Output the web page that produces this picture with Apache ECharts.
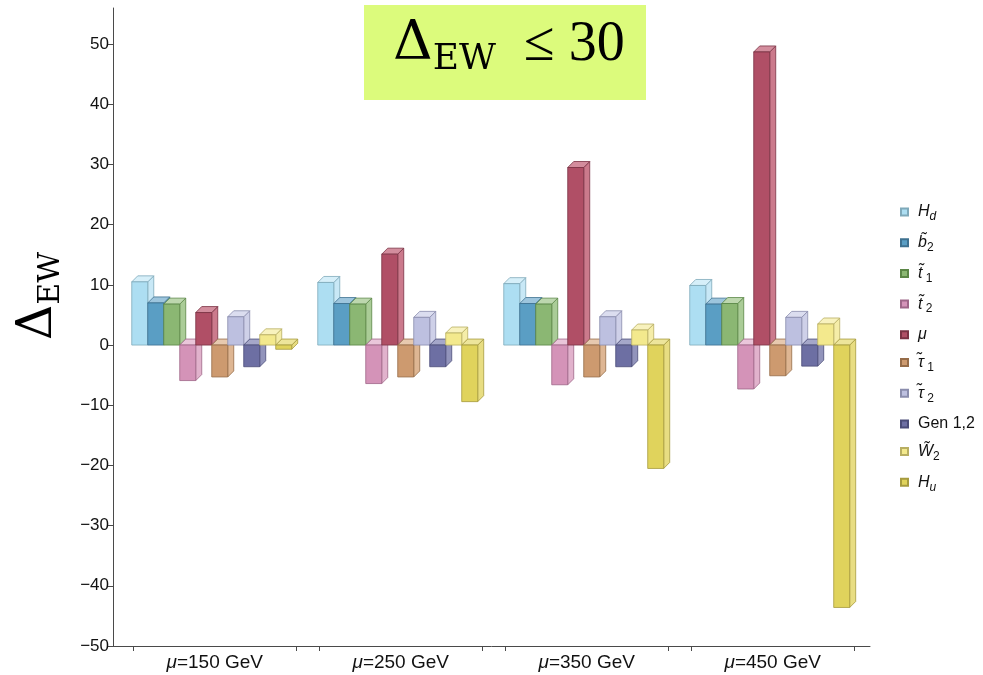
<!DOCTYPE html>
<html>
<head>
<meta charset="utf-8">
<script src="https://cdn.jsdelivr.net/npm/echarts@6/dist/echarts.min.js"></script>
<style>html,body{margin:0;padding:0;background:#fff}#c{width:983px;height:675px}</style>
</head>
<body>
<div id="c"></div>
<script>
// ---- data ----
const categories = ['μ=150 GeV', 'μ=250 GeV', 'μ=350 GeV', 'μ=450 GeV'];
const seriesNames = ['Hd', 'b2', 't1', 't2', 'mu', 'tau1', 'tau2', 'Gen12', 'W2', 'Hu'];
const Hd    = [10.5, 10.4, 10.2, 9.9];
const b2    = [7.0, 6.9, 6.9, 6.8];
const t1    = [6.8, 6.8, 6.8, 6.9];
const t2    = [-5.9, -6.4, -6.6, -7.3];
const mu    = [5.4, 15.1, 29.5, 48.7];
const tau1  = [-5.3, -5.3, -5.3, -5.1];
const tau2  = [4.7, 4.6, 4.7, 4.6];
const Gen12 = [-3.6, -3.6, -3.6, -3.5];
const W2    = [1.7, 2.0, 2.5, 3.5];
const Hu    = [-0.7, -9.4, -20.5, -43.6];
const yTickValues = [-50, -40, -30, -20, -10, 0, 10, 20, 30, 40, 50];

const values = [Hd, b2, t1, t2, mu, tau1, tau2, Gen12, W2, Hu];

// ---- styles ----
const STY = [
  {front:'#ADDEF2', top:'#D6EFF9', side:'#C8E8F6', stroke:'#7FA9BA'},
  {front:'#5A9EC4', top:'#9DC5DD', side:'#87B7D3', stroke:'#3E7190'},
  {front:'#8BB773', top:'#BDD7AE', side:'#AACC97', stroke:'#5B8646'},
  {front:'#D493B8', top:'#EAC6DA', side:'#E1B2CC', stroke:'#9E6688'},
  {front:'#B04F66', top:'#D38D9D', side:'#CB7A8C', stroke:'#7A3244'},
  {front:'#CD9A6F', top:'#E7C9AF', side:'#DEB693', stroke:'#966C48'},
  {front:'#BDC0E0', top:'#DBDDEF', side:'#CED0E8', stroke:'#8A8DAD'},
  {front:'#6D6FA3', top:'#A5A7C9', side:'#9294BB', stroke:'#4A4C78'},
  {front:'#F3E98D', top:'#F8F2BE', side:'#F5EDA8', stroke:'#B8AE62'},
  {front:'#E0D35C', top:'#EDE59B', side:'#E8DD82', stroke:'#A69B3E'}
];
const LEGEND_LABELS = {
  Hd: '{i|H}{si|d}',
  b2: '{i|b\u0303}{s|2}',
  t1: '{i|t\u0303}{s| 1}',
  t2: '{i|t\u0303}{s| 2}',
  mu: '{i|μ}',
  tau1: '{i|τ\u0303}{s| 1}',
  tau2: '{i|τ\u0303}{s| 2}',
  Gen12: '{n|Gen 1,2}',
  W2: '{i|W\u0303}{s|2}',
  Hu: '{i|H}{si|u}'
};

const BAR_FRAC = 0.086;
const DEPTH = 6;
const NS = seriesNames.length;

function renderBar(params, api) {
  const si = params.seriesIndex;
  const cat = api.value(0);
  const val = api.value(1);
  const base = api.coord([cat + 0.5, 0]);
  const tip = api.coord([cat + 0.5, val]);
  const pitch = api.size([1, 0])[0];
  const bw = pitch * BAR_FRAC;
  const d = DEPTH;
  const x0 = base[0] - (NS * bw + d) / 2 + si * bw;
  const x1 = x0 + bw;
  const yTop = Math.min(base[1], tip[1]);
  const yBot = Math.max(base[1], tip[1]);
  const s = STY[si];
  const lw = 0.8;
  return {
    type: 'group',
    children: [
      {type: 'polygon', shape: {points: [[x1, yTop], [x1 + d, yTop - d], [x1 + d, yBot - d], [x1, yBot]]},
        style: {fill: s.side, stroke: s.stroke, lineWidth: lw}},
      {type: 'polygon', shape: {points: [[x0, yTop], [x0 + d, yTop - d], [x1 + d, yTop - d], [x1, yTop]]},
        style: {fill: s.top, stroke: s.stroke, lineWidth: lw}},
      {type: 'rect', shape: {x: x0, y: yTop, width: bw, height: yBot - yTop},
        style: {fill: s.front, stroke: s.stroke, lineWidth: lw}}
    ]
  };
}

const xTicks = [];
categories.forEach((c, i) => { xTicks.push(i + 0.06, i + 0.94); });

const axisColor = '#4a4a4a';
const sansFont = 'Liberation Sans';

const chart = echarts.init(document.getElementById('c'), null, {renderer: 'canvas'});
chart.setOption({
  animation: false,
  backgroundColor: '#fff',
  grid: {left: 113, top: 8, width: 757, height: 638},
  xAxis: {
    type: 'value', min: -0.047, max: 4.023,
    axisLine: {show: true, onZero: false, lineStyle: {color: axisColor, width: 1}},
    splitLine: {show: false},
    axisTick: {show: true, customValues: xTicks, length: 5, lineStyle: {color: axisColor}},
    axisLabel: {
      customValues: categories.map((c, i) => i + 0.5),
      formatter: function (v) {
        const c = categories[Math.round(v - 0.5)] || '';
        return '{i|' + c.slice(0, 1) + '}{n|' + c.slice(1) + '}';
      },
      margin: 7,
      rich: {
        i: {fontFamily: sansFont, fontSize: 19, fontStyle: 'italic', color: '#111'},
        n: {fontFamily: sansFont, fontSize: 19, color: '#111'}
      }
    }
  },
  yAxis: {
    type: 'value', min: -50, max: 56, position: 'left',
    axisLine: {show: true, onZero: false, lineStyle: {color: axisColor, width: 1}},
    splitLine: {show: false},
    axisTick: {show: true, customValues: yTickValues, length: 5, lineStyle: {color: axisColor}},
    axisLabel: {
      customValues: yTickValues, margin: 4,
      fontFamily: sansFont, fontSize: 17, color: '#111',
      formatter: v => String(v).replace('-', '\u2212')
    }
  },
  legend: {
    orient: 'vertical', left: 900, top: 204, padding: 0,
    itemWidth: 7, itemHeight: 7, itemGap: 11.7, icon: 'rect',
    data: seriesNames,
    formatter: name => LEGEND_LABELS[name],
    textStyle: {
      padding: [0, 0, 0, 5],
      rich: {
        i: {fontFamily: sansFont, fontSize: 16, fontStyle: 'italic', color: '#111', lineHeight: 22},
        n: {fontFamily: sansFont, fontSize: 16, color: '#111', lineHeight: 22},
        s: {fontFamily: sansFont, fontSize: 12, color: '#111', lineHeight: 14, verticalAlign: 'bottom'},
        si: {fontFamily: sansFont, fontSize: 12, fontStyle: 'italic', color: '#111', lineHeight: 14, verticalAlign: 'bottom'}
      }
    }
  },
  graphic: [
    {type: 'rect', left: 364, top: 5, shape: {width: 282, height: 95}, style: {fill: '#DCFB7C'}, z: 10},
    {type: 'text', left: 393, top: 17, z: 11,
      style: {
        text: '{d|Δ}{s|EW}{t|  ≤ 30}',
        rich: {
          d: {fontFamily: 'DejaVu Serif', fontSize: 55, lineHeight: 66, fill: '#000'},
          s: {fontFamily: 'DejaVu Serif', fontSize: 36, lineHeight: 42, verticalAlign: 'bottom', fill: '#000'},
          t: {fontFamily: 'Liberation Serif', fontSize: 56, lineHeight: 66, fill: '#000'}
        }
      }
    },
    {type: 'text', x: 38, y: 296, rotation: Math.PI / 2, z: 11,
      style: {
        text: '{d|Δ}{s|EW}', align: 'center', verticalAlign: 'middle',
        rich: {
          d: {fontFamily: 'DejaVu Serif', fontSize: 49, lineHeight: 56, fill: '#000'},
          s: {fontFamily: 'DejaVu Serif', fontSize: 30, lineHeight: 36, verticalAlign: 'bottom', fill: '#000'}
        }
      }
    }
  ],
  series: seriesNames.map((name, si) => ({
    name: name,
    type: 'custom',
    coordinateSystem: 'cartesian2d',
    renderItem: renderBar,
    itemStyle: {color: STY[si].front, borderColor: STY[si].stroke, borderWidth: 0.8},
    encode: {x: 0, y: 1},
    data: values[si].map((v, i) => [i, v])
  }))
});
</script>
</body>
</html>
